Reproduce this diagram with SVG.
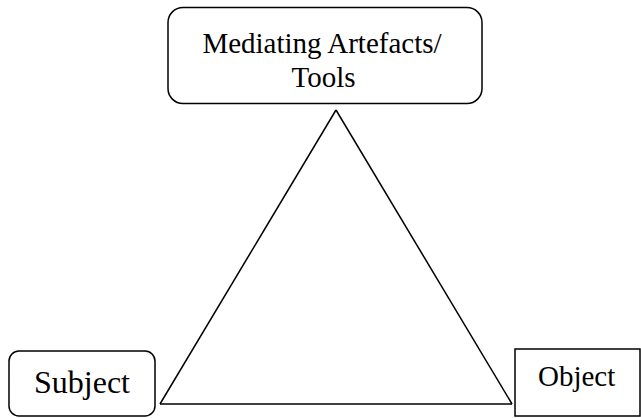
<svg xmlns="http://www.w3.org/2000/svg" width="641" height="418" viewBox="0 0 641 418">
<style>
.box{fill:#fff;stroke:#000;stroke-width:1.5}
.lbl{font-family:"Liberation Serif","Times New Roman",serif;font-size:29px;fill:#000}
.edge{stroke:#000;stroke-width:1.5;fill:none}
</style>
<rect width="641" height="418" fill="#fff"/>
<g id="connectors">
<line class="edge" x1="336" y1="110" x2="160" y2="404"/>
<line class="edge" x1="336" y1="110" x2="512" y2="404"/>
<line class="edge" x1="160" y1="404" x2="512" y2="404"/>
</g>
<g id="tools">
<rect class="box" x="168" y="7.5" width="314" height="96" rx="15"/>
<text class="lbl" x="322" y="53" text-anchor="middle">Mediating Artefacts/</text>
<text class="lbl" x="323.5" y="87" text-anchor="middle">Tools</text>
</g>
<g id="subject">
<rect class="box" x="9" y="351" width="146" height="65" rx="10"/>
<text class="lbl" x="34" y="393" style="font-size:32px">Subject</text>
</g>
<g id="object">
<rect class="box" x="515" y="349" width="125" height="67"/>
<text class="lbl" x="538" y="386">Object</text>
</g>
</svg>
